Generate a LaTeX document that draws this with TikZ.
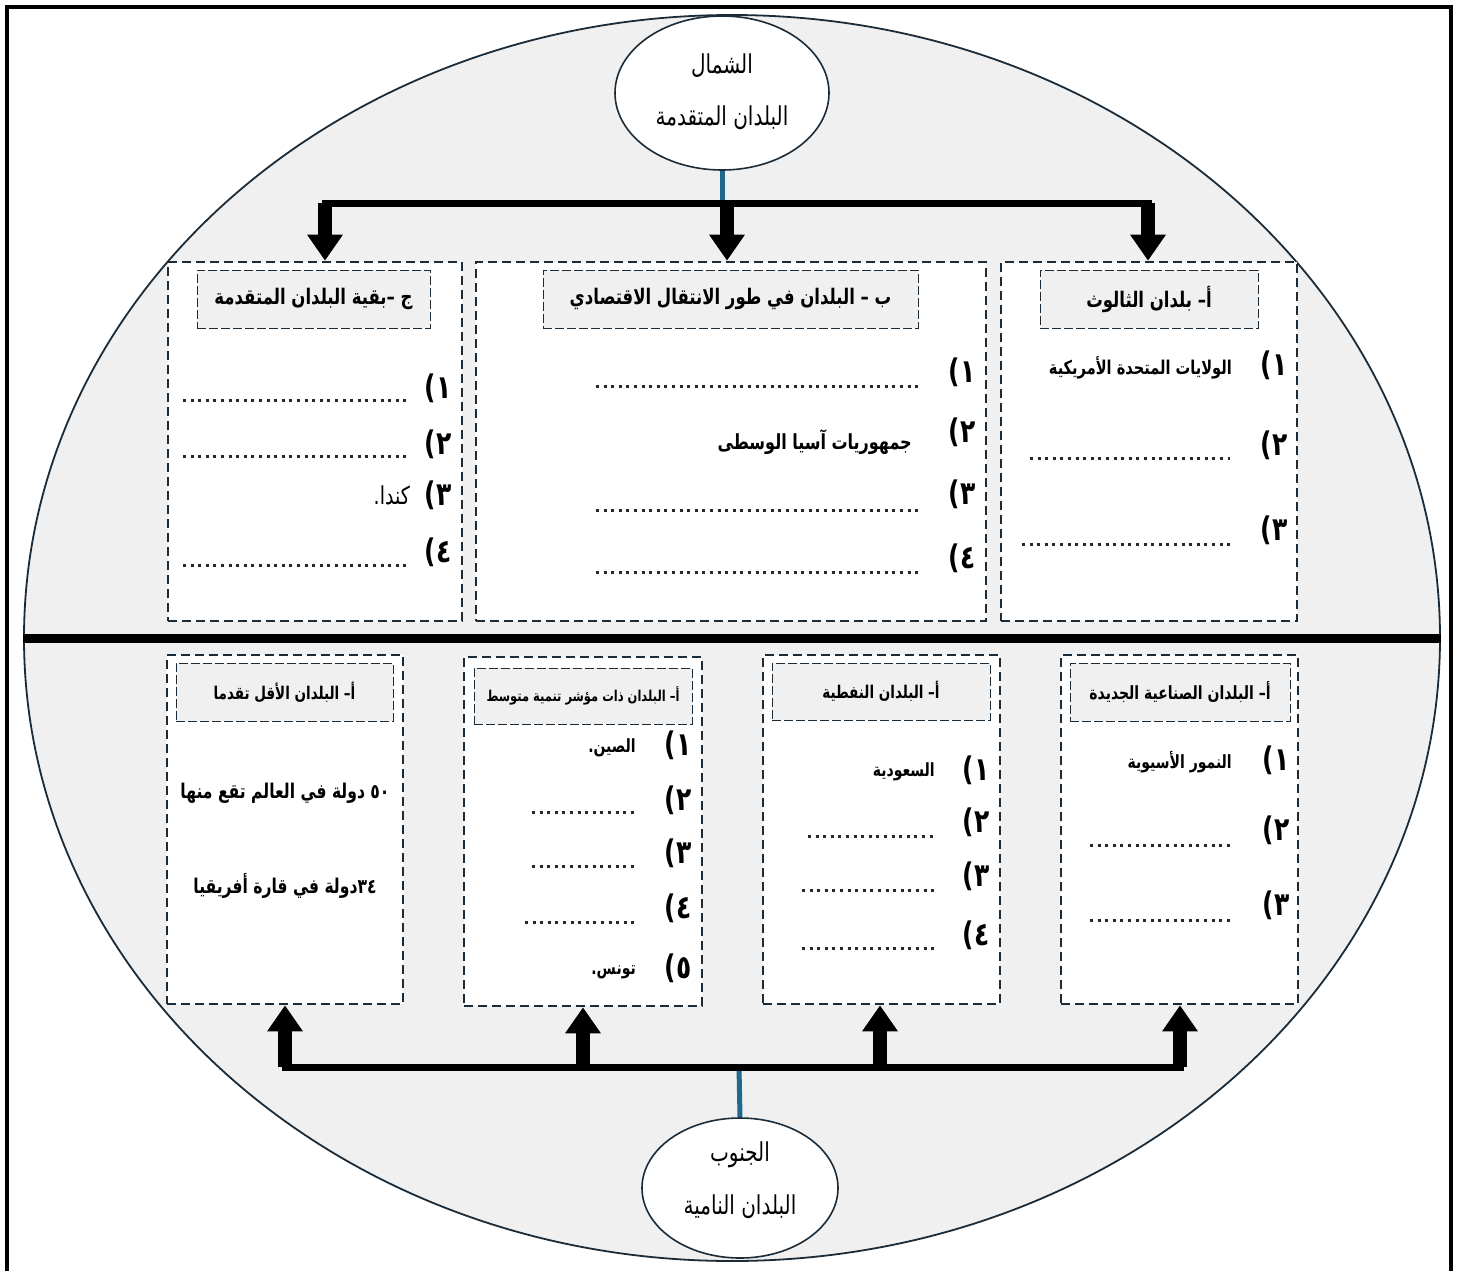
\documentclass[tikz,border=0pt]{standalone}
\usepackage{fontspec}
\usetikzlibrary{shapes.geometric,arrows.meta}
\TeXXeTstate=1
\newfontfamily\arabicfont[Script=Arabic]{DejaVu Sans}
\newfontfamily\plainfont{DejaVu Sans}
\newcommand\tallr[1]{\scalebox{1}[1.3]{#1}}
\newcommand\itemnum[1]{\tallr{{\plainfont\bfseries(}{\arabicfont\bfseries #1}}}
\definecolor{dk}{HTML}{1B2B38}
\definecolor{tealc}{HTML}{1F6A8C}
\definecolor{gbg}{HTML}{F0F0F0}
\definecolor{dotc}{HTML}{2A2630}
\begin{document}
\begin{tikzpicture}[x=1pt,y=-1pt,
  box/.style={draw=dk, line width=2.6pt, dash pattern=on 9pt off 5pt, fill=white, inner sep=0},
  hdr/.style={draw=dk, line width=1pt, dash pattern=on 9pt off 3pt, fill=gbg, inner sep=0},
  oval/.style={ellipse, draw=dk, line width=1.6pt, fill=white, inner sep=0},
  otxt/.style={inner sep=0, font=\arabicfont\fontsize{20}{23}\selectfont},
  dotl/.style={draw=dotc, line width=3pt, dash pattern=on 3pt off 4.6pt},
  arr/.style={line width=14pt, -{Triangle[width=34pt,length=26pt]}},
  bar/.style={line width=7pt, line cap=rect},
  link/.style={draw=tealc, line width=5pt},
  htop/.style={inner sep=0, font=\arabicfont\bfseries\fontsize{16.5}{20}\selectfont},
  hbot/.style={inner sep=0, font=\arabicfont\bfseries\fontsize{13.5}{16}\selectfont},
  itm/.style={inner sep=0, anchor=east, font=\arabicfont\bfseries\fontsize{14.6}{18}\selectfont},
  itmb/.style={inner sep=0, anchor=east, font=\arabicfont\bfseries\fontsize{14}{17}\selectfont},
  big/.style={inner sep=0, font=\arabicfont\bfseries\fontsize{15.6}{19}\selectfont},
  num/.style={inner sep=0, font=\fontsize{25}{30}\selectfont}]
\useasboundingbox (0,0) rectangle (1457,1270);
\fill[white] (0,0) rectangle (1457,1270);
\draw[line width=4pt] (7,7) rectangle (1451,1290);
% globe
\node[ellipse, draw=dk, line width=1.8pt, fill=gbg, inner sep=0, minimum width=1416pt, minimum height=1246pt] (globe) at (732,638) {};
\draw[line width=9pt] (globe.west) -- (globe.east);
% top boxes
\node[box, minimum width=294pt, minimum height=359pt] (bC) at (315,441.5) {};
\node[box, minimum width=510pt, minimum height=359pt] (bB) at (731,441.5) {};
\node[box, minimum width=296pt, minimum height=359pt] (bA) at (1149,441.5) {};
\node[hdr, minimum width=233pt, minimum height=58pt] (hC) at (313.5,299) {};
\node[hdr, minimum width=375pt, minimum height=58pt] (hB) at (730.5,299) {};
\node[hdr, minimum width=218pt, minimum height=58pt] (hA) at (1149,299) {};
\node[htop] (hCt) at (hC) {\tallr{\beginR ج –بقية البلدان المتقدمة\endR}};
\node[htop] (hBt) at (hB) {\tallr{\beginR ب – البلدان في طور الانتقال الاقتصادي\endR}};
\node[htop] (hAt) at (hA) {\tallr{\beginR أ– بلدان الثالوث\endR}};
% box A items
\node[num] (a1) at (1274,365) {\itemnum{١}};
\node[num] (a2) at (1274,445) {\itemnum{٢}};
\node[num] (a3) at (1274,530) {\itemnum{٣}};
\node[itm] (a1t) at (1232,368) {\tallr{\beginR الولايات المتحدة الأمريكية\endR}};
\draw[dotl] (1030,458) -- (1230,458);
\draw[dotl] (1022,544) -- (1230,544);
% box B items
\node[num] (b1) at (962,372) {\itemnum{١}};
\node[num] (b2) at (962,432) {\itemnum{٢}};
\node[num] (b3) at (962,494) {\itemnum{٣}};
\node[num] (b4) at (962,558) {\itemnum{٤}};
\draw[dotl] (596,386) -- (918,386);
\node[itm, font=\arabicfont\bfseries\fontsize{16}{20}\selectfont] (b2t) at (912,442) {\tallr{\beginR جمهوريات آسيا الوسطى\endR}};
\draw[dotl] (596,510) -- (918,510);
\draw[dotl] (596,572) -- (918,572);
% box C items
\node[num] (c1) at (438,388) {\itemnum{١}};
\node[num] (c2) at (438,444) {\itemnum{٢}};
\node[num] (c3) at (438,495) {\itemnum{٣}};
\node[num] (c4) at (438,552) {\itemnum{٤}};
\draw[dotl] (183,400) -- (408,400);
\draw[dotl] (183,456) -- (408,456);
\node[itm, font=\arabicfont\fontsize{19}{22}\selectfont] (c3t) at (410,495) {\tallr{\beginR كندا.\endR}};
\draw[dotl] (183,565) -- (408,565);
% north node and arrows
\node[oval, minimum width=214pt, minimum height=154pt] (north) at (722,93) {};
\node[otxt] (nt1) at (722,66) {\tallr{\beginR الشمال\endR}};
\node[otxt] (nt2) at (722,118) {\tallr{\beginR البلدان المتقدمة\endR}};
\coordinate (tm) at (722,203);
\coordinate (tl) at (325,203);
\coordinate (tc) at (727,203);
\coordinate (tr) at (1148,203);
\draw[link] (north.south) -- (tm);
\draw[bar] (tl) -- (tr);
\draw[arr] (tl) -- (tl |- bC.north);
\draw[arr] (tc) -- (tc |- bB.north);
\draw[arr] (tr) -- (tr |- bA.north);
% bottom boxes
\node[box, minimum width=236pt, minimum height=349pt] (b1x) at (285,829.5) {};
\node[box, minimum width=238pt, minimum height=349pt] (b2x) at (583,831.5) {};
\node[box, minimum width=237pt, minimum height=349pt] (b3x) at (881.5,829.5) {};
\node[box, minimum width=237pt, minimum height=349pt] (b4x) at (1179.5,829.5) {};
\node[hdr, minimum width=217pt, minimum height=58pt] (h1) at (284.5,692) {};
\node[hdr, minimum width=218pt, minimum height=56pt] (h2) at (583,696) {};
\node[hdr, minimum width=218pt, minimum height=57pt] (h3) at (881,691.5) {};
\node[hdr, minimum width=220pt, minimum height=58pt] (h4) at (1180,692) {};
\node[hbot] (h1t) at (h1) {\tallr{\beginR أ– البلدان الأقل تقدما\endR}};
\node[hbot, font=\arabicfont\bfseries\fontsize{11.5}{14}\selectfont] (h2t) at (h2) {\tallr{\beginR أ– البلدان ذات مؤشر تنمية متوسط\endR}};
\node[hbot] (h3t) at (h3) {\tallr{\beginR أ– البلدان النفطية\endR}};
\node[hbot, font=\arabicfont\bfseries\fontsize{14}{17}\selectfont] (h4t) at (h4) {\tallr{\beginR أ– البلدان الصناعية الجديدة\endR}};
% box 1 content
\node[big] (l1) at (285,793) {\tallr{\beginR ٥٠ دولة في العالم تقع منها\endR}};
\node[big] (l2) at (285,886) {\tallr{\beginR ٣٤دولة في قارة أفريقيا\endR}};
% box 2 items
\node[num] (m1) at (678,745) {\itemnum{١}};
\node[num] (m2) at (678,800) {\itemnum{٢}};
\node[num] (m3) at (678,853) {\itemnum{٣}};
\node[num] (m4) at (678,908) {\itemnum{٤}};
\node[num] (m5) at (678,968) {\itemnum{٥}};
\node[itmb] (m1t) at (636,748) {\tallr{\beginR الصين.\endR}};
\draw[dotl] (532,812) -- (634,812);
\draw[dotl] (532,866) -- (634,866);
\draw[dotl] (525,922) -- (634,922);
\node[itmb] (m5t) at (636,972) {\tallr{\beginR تونس.\endR}};
% box 3 items
\node[num] (o1) at (976,770) {\itemnum{١}};
\node[num] (o2) at (976,822) {\itemnum{٢}};
\node[num] (o3) at (976,876) {\itemnum{٣}};
\node[num] (o4) at (976,935) {\itemnum{٤}};
\node[itmb] (o1t) at (935,772) {\tallr{\beginR السعودية\endR}};
\draw[dotl] (808,836) -- (934,836);
\draw[dotl] (802,890) -- (934,890);
\draw[dotl] (802,948) -- (934,948);
% box 4 items
\node[num] (n1) at (1276,760) {\itemnum{١}};
\node[num] (n2) at (1276,830) {\itemnum{٢}};
\node[num] (n3) at (1276,905) {\itemnum{٣}};
\node[itmb] (n1t) at (1232,762) {\tallr{\beginR النمور الأسيوية\endR}};
\draw[dotl] (1090,845) -- (1230,845);
\draw[dotl] (1090,920) -- (1230,920);
% south node and arrows
\node[oval, minimum width=196pt, minimum height=140pt] (south) at (740,1188) {};
\node[otxt] (st1) at (740,1155) {\tallr{\beginR الجنوب\endR}};
\node[otxt] (st2) at (740,1207) {\tallr{\beginR البلدان النامية\endR}};
\coordinate (bm) at (739,1067);
\coordinate (bl) at (285,1067);
\coordinate (bc1) at (583,1067);
\coordinate (bc2) at (880,1067);
\coordinate (br) at (1180,1067);
\draw[link] (south.north) -- (bm);
\draw[bar] (bl) -- (br);
\draw[arr] (bl) -- (bl |- b1x.south);
\draw[arr] (bc1) -- (bc1 |- b2x.south);
\draw[arr] (bc2) -- (bc2 |- b3x.south);
\draw[arr] (br) -- (br |- b4x.south);
\end{tikzpicture}
\end{document}
